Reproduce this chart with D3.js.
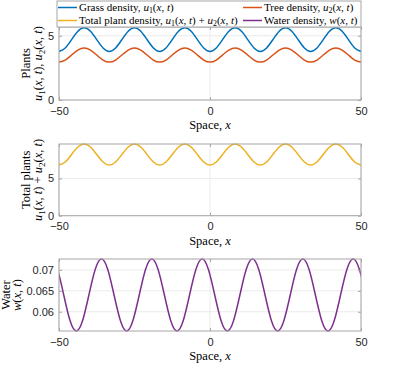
<!DOCTYPE html>
<html><head><meta charset="utf-8">
<script src="https://cdn.jsdelivr.net/npm/d3@7"></script>
<style>
html,body{margin:0;padding:0;background:#fff;}
svg{display:block;}
.serif{font-family:"Liberation Serif","DejaVu Serif",serif;}
.sans{font-family:"Liberation Sans",Arial,sans-serif;}
</style>
</head><body>
<svg id="chart" width="399" height="384"></svg>
<script>
// ---------------- data ----------------
const xTicks = [-50, 0, 50];
const plantX = [-50,-47.92,-45.83,-43.75,-41.67,-39.58,-37.5,-35.42,-33.33,-31.25,-29.17,-27.08,-25,-22.92,-20.83,-18.75,-16.67,-14.58,-12.5,-10.42,-8.33,-6.25,-4.17,-2.08,0,2.08,4.17,6.25,8.33,10.42,12.5,14.58,16.67,18.75,20.83,22.92,25,27.08,29.17,31.25,33.33,35.42,37.5,39.58,41.67,43.75,45.83,47.92,50];
const grass = [3.78,4.05,4.70,5.35,5.62,5.35,4.70,4.05, 3.78,4.05,4.70,5.35,5.62,5.35,4.70,4.05, 3.78,4.05,4.70,5.35,5.62,5.35,4.70,4.05, 3.78,4.05,4.70,5.35,5.62,5.35,4.70,4.05, 3.78,4.05,4.70,5.35,5.62,5.35,4.70,4.05, 3.78,4.05,4.70,5.35,5.62,5.35,4.70,4.05, 3.78];
const tree = [2.95,3.11,3.50,3.88,4.04,3.88,3.50,3.11, 2.95,3.11,3.50,3.88,4.04,3.88,3.50,3.11, 2.95,3.11,3.50,3.88,4.04,3.88,3.50,3.11, 2.95,3.11,3.50,3.88,4.04,3.88,3.50,3.11, 2.95,3.11,3.50,3.88,4.04,3.88,3.50,3.11, 2.95,3.11,3.50,3.88,4.04,3.88,3.50,3.11, 2.95];
const total = [6.80,7.21,8.21,9.21,9.62,9.21,8.21,7.21, 6.80,7.21,8.21,9.21,9.62,9.21,8.21,7.21, 6.80,7.21,8.21,9.21,9.62,9.21,8.21,7.21, 6.80,7.21,8.21,9.21,9.62,9.21,8.21,7.21, 6.80,7.21,8.21,9.21,9.62,9.21,8.21,7.21, 6.80,7.21,8.21,9.21,9.62,9.21,8.21,7.21, 6.80];
const waterX = [-52.6,-50.52,-48.43,-46.35,-44.27,-42.18,-40.1,-38.02,-35.93,-33.85,-31.77,-29.68,-27.6,-25.52,-23.43,-21.35,-19.27,-17.18,-15.1,-13.02,-10.93,-8.85,-6.77,-4.68,-2.6,-0.52,1.57,3.65,5.73,7.82,9.9,11.98,14.07,16.15,18.23,20.32,22.4,24.48,26.57,28.65,30.73,32.82,34.9,36.98,39.07,41.15,43.23,45.32,47.4,49.48,51.57];
const water = [0.0726,0.0701,0.0640,0.0579,0.0554,0.0579,0.0640,0.0701, 0.0726,0.0701,0.0640,0.0579,0.0554,0.0579,0.0640,0.0701, 0.0726,0.0701,0.0640,0.0579,0.0554,0.0579,0.0640,0.0701, 0.0726,0.0701,0.0640,0.0579,0.0554,0.0579,0.0640,0.0701, 0.0726,0.0701,0.0640,0.0579,0.0554,0.0579,0.0640,0.0701, 0.0726,0.0701,0.0640,0.0579,0.0554,0.0579,0.0640,0.0701, 0.0726,0.0701,0.0640];
const plantYTicks = [0, 5];
const totalYTicks = [0, 5];
const waterYTicks = [0.06, 0.065, 0.07];
const plantYDomain = [0, 5.68];
const totalYDomain = [0, 9.62];
const waterYDomain = [0.0554, 0.0726];

// ---------------- styling ----------------
const C = {grass:"#0072BD", tree:"#D95319", total:"#EDB120", water:"#7E2F8E"};
const svg = d3.select("#chart");
const L = 59, R = 361;
const x = d3.scaleLinear().domain([-50, 50]).range([L, R]);

// rich text helper: parts = [[text, 'r'|'i'|'s']]
function rich(t, parts, fs) {
  let shifted = false;
  parts.forEach(p => {
    const ts = t.append("tspan").text(p[0]);
    if (p[1] === "i") ts.style("font-style", "italic");
    if (p[1] === "s") { ts.style("font-size", (fs * 0.72) + "px").attr("dy", fs * 0.2); shifted = true; }
    else if (shifted) { ts.attr("dy", -fs * 0.2); shifted = false; }
  });
  return t;
}
const u1 = [["u","i"],["1","s"],["(","r"],["x","i"],[", ","r"],["t","i"],[")","r"]];
const u2 = [["u","i"],["2","s"],["(","r"],["x","i"],[", ","r"],["t","i"],[")","r"]];
const wxt = [["w","i"],["(","r"],["x","i"],[", ","r"],["t","i"],[")","r"]];

function panel(cfg) {
  const y = d3.scaleLinear().domain(cfg.domain).range([cfg.bottom, cfg.top]);
  const g = svg.append("g");
  const cid = "clip" + cfg.id;
  svg.append("clipPath").attr("id", cid).append("rect")
    .attr("x", L).attr("y", cfg.top - 2).attr("width", R - L).attr("height", cfg.bottom - cfg.top + 4);
  // grid
  g.append("g").selectAll("line").data(cfg.yTicks).join("line")
    .attr("x1", L).attr("x2", R).attr("y1", d => y(d)).attr("y2", d => y(d))
    .attr("stroke", "#ebebeb").attr("stroke-width", 1);
  g.append("g").selectAll("line").data(xTicks).join("line")
    .attr("y1", cfg.top).attr("y2", cfg.bottom).attr("x1", d => x(d)).attr("x2", d => x(d))
    .attr("stroke", "#ebebeb").attr("stroke-width", 1);
  // series
  cfg.series.forEach(s => {
    const line = d3.line().x((d, i) => x(s.xs[i])).y(d => y(d)).curve(d3.curveNatural);
    g.append("path").datum(s.ys).attr("d", line).attr("fill", "none")
      .attr("stroke", s.color).attr("stroke-width", 1.5).attr("clip-path", `url(#${cid})`);
  });
  // axes
  const axB = d3.axisBottom(x).tickValues(xTicks).tickFormat(d3.format("d")).tickSizeInner(-3).tickSizeOuter(0).tickPadding(7);
  const axT = d3.axisTop(x).tickValues(xTicks).tickFormat("").tickSizeInner(-3).tickSizeOuter(0);
  const axLf = d3.axisLeft(y).tickValues(cfg.yTicks).tickFormat(cfg.fmt).tickSizeInner(-3).tickSizeOuter(0).tickPadding(5);
  const axRt = d3.axisRight(y).tickValues(cfg.yTicks).tickFormat("").tickSizeInner(-3).tickSizeOuter(0);
  const style = a => { a.attr("font-family", null).attr("font-size", null);
    a.select(".domain").remove(); a.selectAll("line").attr("stroke", "#a6a6a6");
    a.selectAll("text").attr("class", "sans").attr("fill", "#262626").style("font-size", "11px"); };
  g.append("g").attr("transform", `translate(0,${cfg.bottom})`).call(axB).call(style);
  g.append("g").attr("transform", `translate(0,${cfg.top})`).call(axT).call(style);
  g.append("g").attr("transform", `translate(${L},0)`).call(axLf).call(style);
  g.append("g").attr("transform", `translate(${R},0)`).call(axRt).call(style);
  g.append("rect").attr("x", L).attr("y", cfg.top).attr("width", R - L).attr("height", cfg.bottom - cfg.top)
    .attr("fill", "none").attr("stroke", "#a6a6a6").attr("stroke-width", 1);
  // x label
  const xl = g.append("text").attr("class", "serif").attr("x", (L + R) / 2).attr("y", cfg.bottom + 29)
    .attr("text-anchor", "middle").style("font-size", "12.5px").attr("fill", "#000");
  rich(xl, [["Space, ","r"],["x","i"]], 12.5);
  // y labels
  const cy = (cfg.top + cfg.bottom) / 2;
  cfg.ylab.forEach(l => {
    const t = g.append("text").attr("class", "serif").attr("transform", `translate(${l.x},${cy}) rotate(-90)`)
      .attr("text-anchor", "middle").style("font-size", "12.5px").attr("fill", "#000");
    rich(t, l.parts, 12.5);
  });
}

panel({id:1, top:27, bottom:100, domain:plantYDomain, yTicks:plantYTicks, fmt:d3.format("d"),
  series:[{xs:plantX, ys:grass, color:C.grass},{xs:plantX, ys:tree, color:C.tree}],
  ylab:[{x:30, parts:[["Plants","r"]]},{x:42, parts:[...u1,[", ","r"],...u2]}]});
panel({id:2, top:144, bottom:215.7, domain:totalYDomain, yTicks:totalYTicks, fmt:d3.format("d"),
  series:[{xs:plantX, ys:total, color:C.total}],
  ylab:[{x:30, parts:[["Total plants","r"]]},{x:42, parts:[...u1,[" + ","r"],...u2]}]});
panel({id:3, top:259, bottom:331, domain:waterYDomain, yTicks:waterYTicks, fmt:d => String(+d.toFixed(3)),
  series:[{xs:waterX, ys:water, color:C.water}],
  ylab:[{x:10, parts:[["Water","r"]]},{x:21, parts:wxt}]});

// ---------------- legend ----------------
const leg = svg.append("g");
leg.append("rect").attr("x", 57).attr("y", 1).attr("width", 304).attr("height", 26)
  .attr("fill", "#fff").attr("stroke", "#a6a6a6").attr("stroke-width", 1);
const legItems = [
  {col:0, row:0, color:C.grass, parts:[["Grass density, ","r"],...u1]},
  {col:1, row:0, color:C.tree, parts:[["Tree density, ","r"],...u2]},
  {col:0, row:1, color:C.total, parts:[["Total plant density, ","r"],...u1,[" + ","r"],...u2]},
  {col:1, row:1, color:C.water, parts:[["Water density, ","r"],...wxt]}
];
const colX = [58, 243];
const rowY = [7.5, 20.5];
legItems.forEach(it => {
  const x0 = colX[it.col], yy = rowY[it.row];
  leg.append("line").attr("x1", x0).attr("x2", x0 + 19).attr("y1", yy).attr("y2", yy)
    .attr("stroke", it.color).attr("stroke-width", 1.5);
  const t = leg.append("text").attr("class", "serif").attr("x", x0 + 21).attr("y", yy + 3.5)
    .style("font-size", "11px").attr("fill", "#000");
  rich(t, it.parts, 11);
});
</script>
</body></html>
